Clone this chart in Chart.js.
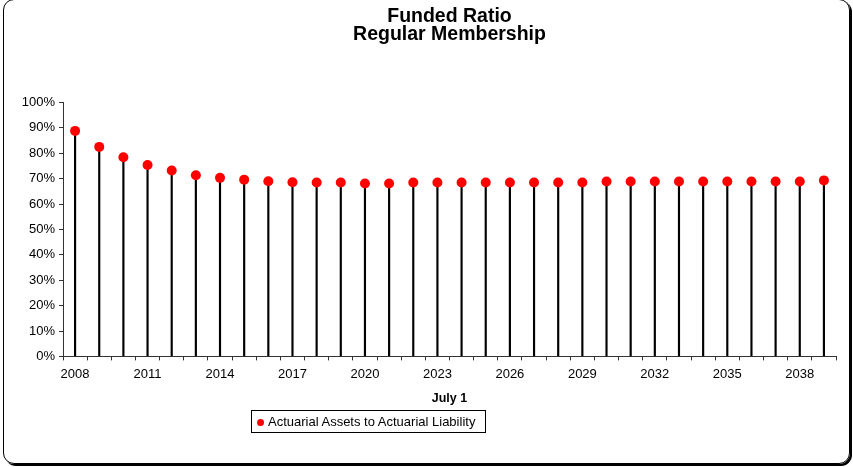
<!DOCTYPE html>
<html>
<head>
<meta charset="utf-8">
<script src="https://cdn.jsdelivr.net/npm/chart.js@4.4.1/dist/chart.umd.min.js"></script>
<style>
  body { margin: 0; background: #fff; font-family: "Liberation Sans", Arial, sans-serif; }
  #wrap { position: relative; width: 853px; height: 467px; overflow: hidden; }
  #frame {
    position: absolute; left: 3px; top: -1px; width: 845px; height: 463px;
    border: 1px solid #000; border-radius: 11px; box-shadow: 2px 2px 0 #000;
  }
  #legend {
    position: absolute; left: 251px; top: 410px; width: 233px; height: 21px;
    border: 1px solid #000; font-size: 13px; line-height: 21px; color: #000;
    white-space: nowrap;
  }
  #legend .dot {
    display: inline-block; width: 7px; height: 7px; border-radius: 50%;
    background: #ff0000; margin: 0 4px 0 5px; vertical-align: 0px;
  }
</style>
</head>
<body>
<div id="wrap">
  <canvas id="myChart" width="853" height="467"></canvas>
  <div id="frame"></div>
  <div id="legend"><span class="dot"></span>Actuarial Assets to Actuarial Liability</div>
</div>
<script>
const years = ['2008', '2009', '2010', '2011', '2012', '2013', '2014', '2015',
  '2016', '2017', '2018', '2019', '2020', '2021', '2022', '2023',
  '2024', '2025', '2026', '2027', '2028', '2029', '2030', '2031',
  '2032', '2033', '2034', '2035', '2036', '2037', '2038', '2039'];

// funded ratio, percent
const fundedRatio = [88.8, 82.5, 78.4, 75.4, 73.2, 71.3, 70.3, 69.6,
  69.0, 68.6, 68.5, 68.5, 68.1, 68.1, 68.5, 68.5,
  68.5, 68.5, 68.5, 68.5, 68.5, 68.5, 68.9, 68.9,
  68.9, 68.9, 68.9, 68.9, 68.9, 68.9, 68.9, 69.3];

const seriesLabel = 'Actuarial Assets to Actuarial Liability';

Chart.defaults.font.family = '"Liberation Sans", Arial, sans-serif';
Chart.defaults.font.size = 13;
Chart.defaults.color = '#000';

const data = {
  labels: years,
  datasets: [
    {
      type: 'line',
      label: seriesLabel,
      data: fundedRatio,
      showLine: false,
      pointRadius: 5,
      pointBorderWidth: 0,
      pointBackgroundColor: '#ff0000',
      pointBorderColor: '#ff0000',
      order: 0,
    },
    {
      type: 'bar',
      label: 'drop',
      data: fundedRatio,
      backgroundColor: '#000',
      barThickness: 1.5,
      order: 1,
    },
  ],
};

const config = {
  type: 'bar',
  data: data,
  options: {
    responsive: false,
    animation: false,
    events: [],
    layout: { padding: { left: 0, right: 17, top: 0, bottom: 61 } },
    plugins: {
      legend: { display: false },
      tooltip: { enabled: false },
      title: {
        display: true,
        fullSize: false,
        text: ['Funded Ratio', 'Regular Membership'],
        font: { size: 19.5, weight: 'bold', lineHeight: 0.96 },
        color: '#000',
        padding: { top: 7, bottom: 58 },
      },
    },
    scales: {
      x: {
        offset: true,
        grid: { offset: true, drawOnChartArea: false, tickLength: 4, color: '#333' },
        border: { color: '#333' },
        ticks: {
          autoSkip: false,
          maxRotation: 0,
          padding: 6.5,
          callback: (v, i) => (i % 3 === 0 ? years[i] : ''),
        },
        title: {
          display: true,
          text: 'July 1',
          font: { size: 12.5, weight: 'bold' },
          padding: { top: 2, bottom: 0 },
        },
      },
      y: {
        min: 0,
        max: 100,
        ticks: { stepSize: 10, padding: 4, callback: (v) => v + '%' },
        grid: { drawOnChartArea: false, tickLength: 4, color: '#333' },
        border: { color: '#333' },
        afterFit: (scale) => { scale.width = 63; },
      },
    },
  },
};

const myChart = new Chart(document.getElementById('myChart'), config);
</script>
</body>
</html>
